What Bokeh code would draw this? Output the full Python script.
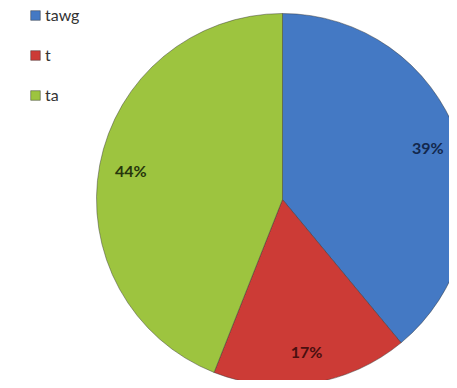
import math
from bokeh.plotting import figure
from bokeh.models import Range1d, ColumnDataSource, Legend, LegendItem
from bokeh.core.properties import value
from bokeh.embed import file_html
from bokeh.resources import INLINE

categories = ["tawg", "t", "ta"]
percents = [39, 17, 44]
labels = ["39%", "17%", "44%"]
colors = ["#4479c4", "#cc3b36", "#9dc43f"]
label_colors = ["#13284d", "#4a0f0f", "#27360c"]

W, H = 449, 380
cx, cy, R = 282, 181, 186

total = sum(percents)
starts, ends, lx, ly = [], [], [], []
cum = 0.0
for v in percents:
    a0 = math.pi / 2 - 2 * math.pi * cum / total
    cum += v
    a1 = math.pi / 2 - 2 * math.pi * cum / total
    starts.append(a0)
    ends.append(a1)
    mid = (a0 + a1) / 2
    lx.append(cx + 0.83 * R * math.cos(mid))
    ly.append(cy + 0.83 * R * math.sin(mid))

src = ColumnDataSource(dict(cat=categories, start=starts, end=ends, color=colors,
                            lab=labels, lx=lx, ly=ly, lc=label_colors))

p = figure(width=W, height=H, output_backend="svg", toolbar_location=None,
           x_range=Range1d(0, W), y_range=Range1d(0, H), min_border=0)
p.axis.visible = False
p.grid.visible = False
p.outline_line_color = None
p.background_fill_color = "white"
p.border_fill_color = "white"

r = p.wedge(x=cx, y=cy, radius=R, start_angle="start", end_angle="end",
            direction="clock", fill_color="color", line_color="#333333",
            line_alpha=0.45, line_width=1, source=src)

p.text(x="lx", y="ly", text="lab", text_color="lc", text_font=value("Lato"),
       text_font_size="16px", text_font_style="bold", text_align="center",
       text_baseline="middle", source=src)

items = [LegendItem(label=c, renderers=[r], index=i) for i, c in enumerate(categories)]
legend = Legend(items=items, location=(29, 276), orientation="vertical",
                glyph_width=12, glyph_height=12, label_height=14, spacing=21,
                padding=0, margin=0, border_line_color=None,
                background_fill_alpha=0, label_text_font="Lato",
                label_text_font_size="16px", label_text_color="#333333",
                label_standoff=4)
p.add_layout(legend)

open("out.html", "w").write(file_html(p, INLINE))
